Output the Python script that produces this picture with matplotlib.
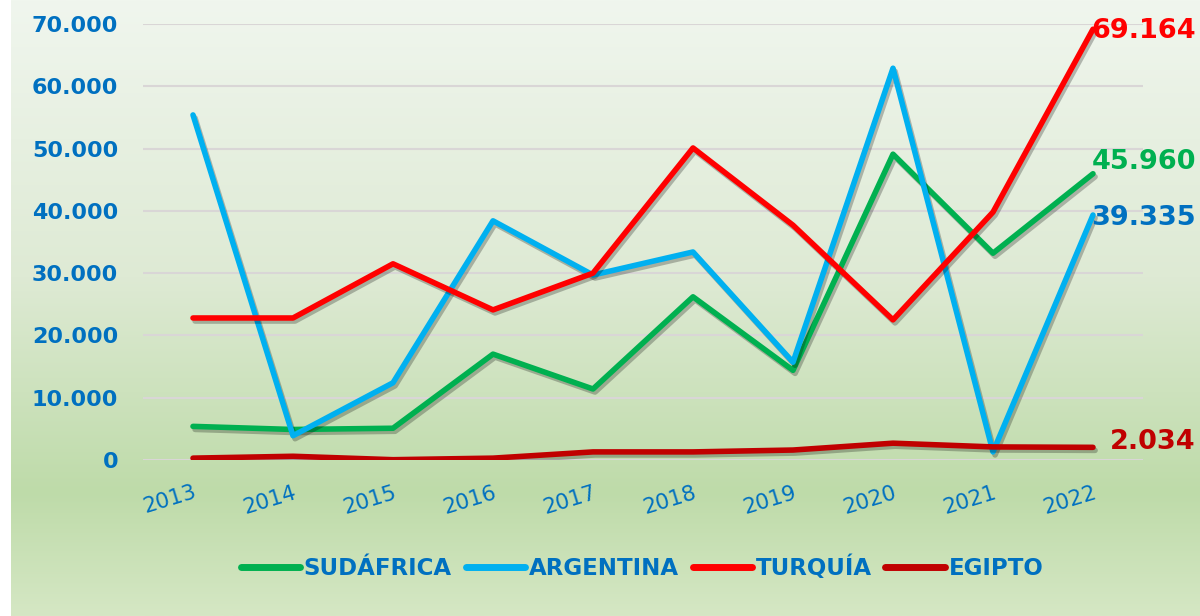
import numpy as np
import matplotlib
matplotlib.use("Agg")
import matplotlib.pyplot as plt
import matplotlib.patheffects as pe
from matplotlib.transforms import blended_transform_factory
from matplotlib.colors import LinearSegmentedColormap

years = ["2013", "2014", "2015", "2016", "2017", "2018", "2019", "2020", "2021", "2022"]
sudafrica = [5400, 4900, 5100, 17000, 11400, 26200, 14400, 49100, 33200, 45960]
argentina = [55400, 3900, 12400, 38400, 29700, 33400, 15700, 62900, 1300, 39335]
turquia = [22800, 22800, 31500, 24100, 30000, 50100, 37700, 22500, 39800, 69164]
egipto = [300, 600, 50, 300, 1300, 1300, 1600, 2700, 2100, 2034]
series_names = ["SUDÁFRICA", "ARGENTINA", "TURQUÍA", "EGIPTO"]
yticks = [0, 10000, 20000, 30000, 40000, 50000, 60000, 70000]
ytick_labels = ["0", "10.000", "20.000", "30.000", "40.000", "50.000", "60.000", "70.000"]
last_labels = ["45.960", "39.335", "69.164", "2.034"]

line_colors = ["#00b050", "#00b0f0", "#ff0000", "#c00000"]
label_colors = ["#00b050", "#0070c0", "#ff0000", "#c00000"]
text_blue = "#0070c0"

W, H = 1200, 616
fig = plt.figure(figsize=(W / 100, H / 100), dpi=100, facecolor="white")

# gradient background
bg = fig.add_axes([11 / W, 0, 1 - 11 / W, 1], zorder=-5)
cmap = LinearSegmentedColormap.from_list(
    "bg",
    [(0.0, (240/255, 246/255, 238/255)),
     (0.45, (222/255, 234/255, 212/255)),
     (0.80, (190/255, 219/255, 169/255)),
     (1.0, (213/255, 231/255, 196/255))])
grad = np.linspace(0, 1, 256).reshape(-1, 1)
bg.imshow(grad, aspect="auto", cmap=cmap, extent=[0, 1, 0, 1], origin="upper")
bg.axis("off")

ax = fig.add_axes([143 / W, 1 - 460 / H, 1000 / W, 436 / H])
ax.set_facecolor("none")
x = np.arange(len(years))
data = [sudafrica, argentina, turquia, egipto]
for vals, c, name in zip(data, line_colors, series_names):
    ax.plot(x, vals, color=c, lw=4.0, solid_capstyle="round", solid_joinstyle="round",
            label=name, zorder=3,
            path_effects=[pe.SimpleLineShadow(offset=(1.5, -2.2), alpha=0.25, shadow_color="black"),
                          pe.Normal()])

ax.set_xlim(-0.5, len(years) - 0.5)
ax.set_ylim(0, 70000)
ax.set_yticks(yticks)
ax.set_yticklabels(ytick_labels)
ax.grid(axis="y", color="#d9d6d6", lw=1.5, zorder=1)
for s in ax.spines.values():
    s.set_visible(False)
ax.tick_params(axis="both", length=0)
ax.tick_params(axis="y", pad=18, labelcolor=text_blue)
for t in ax.get_yticklabels():
    t.set_fontsize(16)
    t.set_fontweight("bold")
    t.set_fontfamily("DejaVu Sans")

ax.set_xticks(x)
ax.set_xticklabels(years, rotation=17, ha="right", rotation_mode="anchor",
                   fontsize=15.5, color=text_blue, fontfamily="DejaVu Sans")
ax.tick_params(axis="x", pad=16)

# end labels
tr = blended_transform_factory(fig.transFigure, ax.transData)
offsets = [12, -3, -2, 5]
for vals, lab, c, off in zip(data, last_labels, label_colors, offsets):
    ax.annotate(lab, xy=(1196 / W, vals[-1]), xycoords=tr, xytext=(0, off * 0.72),
                textcoords="offset points", ha="right", va="center",
                fontsize=19.5, fontweight="bold", color=c, fontfamily="DejaVu Sans",
                zorder=5, annotation_clip=False)

leg = fig.legend(loc="center", bbox_to_anchor=(642 / W, 1 - 568 / H), ncol=4,
                 frameon=False, handlelength=2.6, handletextpad=0.15, columnspacing=0.6,
                 prop={"family": "DejaVu Sans", "weight": "bold", "size": 16.5})
for t in leg.get_texts():
    t.set_color(text_blue)
for h in leg.get_lines():
    h.set_linewidth(5)
    h.set_path_effects([])
    h.set_solid_capstyle("round")

fig.savefig("out.png", dpi=100, facecolor="white")
